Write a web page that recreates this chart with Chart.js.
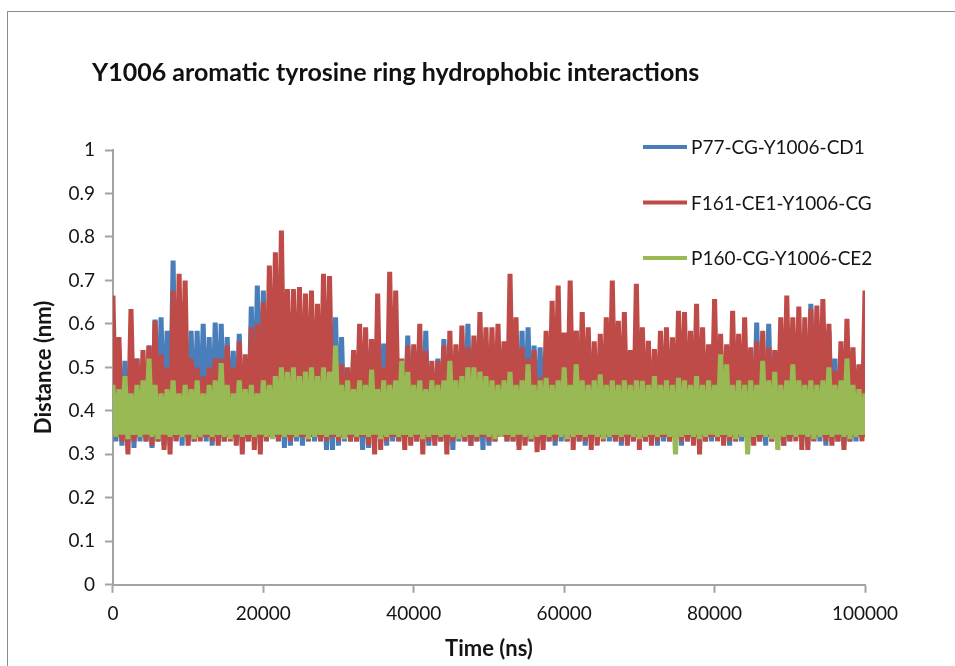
<!DOCTYPE html>
<html>
<head>
<meta charset="utf-8">
<title>Y1006 aromatic tyrosine ring hydrophobic interactions</title>
<script src="https://cdn.jsdelivr.net/npm/chart.js@4.4.1/dist/chart.umd.min.js"></script>
<style>
  html, body { margin: 0; padding: 0; background: #ffffff; }
  #wrap { position: relative; width: 955px; height: 666px; }
</style>
</head>
<body>
<div id="wrap"><canvas id="chart"></canvas></div>
<script>
// Trajectory sampling interval (ns) for the distance series below.
const timeStepNs = 400;

const chartTitle = 'Y1006 aromatic tyrosine ring hydrophobic interactions';
const xAxisTitle = 'Time (ns)';
const yAxisTitle = 'Distance (nm)';
const seriesNames = ['P77-CG-Y1006-CD1', 'F161-CE1-Y1006-CG', 'P160-CG-Y1006-CE2'];
const seriesColors = ['#4a7ebb', '#be4b48', '#98b954'];

// Distances (nm), one value per sampled frame.
const p77Cd1 = [
  0.45,0.33,0.54,0.32,0.515,0.33,0.54,0.315,0.52,0.33,
  0.50,0.33,0.55,0.315,0.61,0.33,0.615,0.32,0.584,0.33,
  0.746,0.33,0.66,0.32,0.60,0.33,0.584,0.33,0.584,0.34,
  0.60,0.33,0.57,0.32,0.603,0.33,0.60,0.33,0.57,0.34,
  0.538,0.33,0.577,0.32,0.507,0.33,0.64,0.33,0.688,0.32,
  0.677,0.33,0.56,0.34,0.55,0.33,0.52,0.315,0.55,0.32,
  0.50,0.33,0.52,0.32,0.50,0.33,0.52,0.33,0.48,0.33,
  0.50,0.31,0.52,0.31,0.615,0.32,0.57,0.33,0.48,0.33,
  0.53,0.33,0.50,0.31,0.49,0.315,0.565,0.33,0.50,0.33,
  0.555,0.32,0.52,0.33,0.50,0.33,0.50,0.34,0.573,0.33,
  0.52,0.33,0.546,0.33,0.584,0.32,0.50,0.33,0.52,0.33,
  0.565,0.32,0.50,0.31,0.52,0.33,0.50,0.33,0.60,0.32,
  0.52,0.33,0.50,0.31,0.51,0.32,0.50,0.33,0.52,0.34,
  0.50,0.33,0.48,0.33,0.50,0.32,0.584,0.33,0.592,0.33,
  0.55,0.34,0.546,0.33,0.50,0.33,0.52,0.32,0.50,0.33,
  0.49,0.33,0.52,0.34,0.584,0.33,0.50,0.32,0.51,0.33,
  0.49,0.33,0.52,0.34,0.50,0.33,0.53,0.33,0.50,0.32,
  0.52,0.33,0.49,0.33,0.50,0.34,0.52,0.33,0.50,0.33,
  0.51,0.32,0.53,0.33,0.50,0.33,0.52,0.33,0.50,0.32,
  0.50,0.33,0.52,0.33,0.50,0.32,0.49,0.33,0.546,0.33,
  0.52,0.34,0.50,0.33,0.51,0.32,0.50,0.33,0.52,0.33,
  0.50,0.32,0.49,0.33,0.603,0.33,0.52,0.32,0.60,0.33,
  0.507,0.33,0.52,0.32,0.50,0.33,0.52,0.34,0.51,0.33,
  0.50,0.32,0.646,0.33,0.52,0.33,0.50,0.32,0.584,0.33,
  0.52,0.33,0.523,0.32,0.50,0.33,0.51,0.33,0.49,0.34,
  0.48
];

const f161Cg = [
  0.665,0.34,0.57,0.33,0.475,0.30,0.634,0.33,0.52,0.34,
  0.54,0.33,0.55,0.32,0.607,0.33,0.53,0.31,0.50,0.30,
  0.677,0.33,0.715,0.34,0.70,0.32,0.52,0.33,0.50,0.33,
  0.48,0.34,0.50,0.33,0.52,0.32,0.52,0.33,0.55,0.33,
  0.50,0.32,0.56,0.30,0.53,0.33,0.592,0.31,0.60,0.30,
  0.65,0.33,0.734,0.34,0.765,0.33,0.815,0.34,0.68,0.33,
  0.68,0.34,0.685,0.34,0.67,0.33,0.677,0.34,0.646,0.33,
  0.715,0.33,0.71,0.34,0.53,0.33,0.507,0.34,0.50,0.33,
  0.54,0.33,0.60,0.34,0.592,0.32,0.565,0.30,0.67,0.31,
  0.50,0.33,0.72,0.34,0.677,0.33,0.52,0.31,0.55,0.32,
  0.553,0.33,0.60,0.30,0.538,0.33,0.515,0.32,0.515,0.33,
  0.55,0.30,0.584,0.33,0.553,0.34,0.596,0.33,0.546,0.32,
  0.573,0.33,0.627,0.34,0.592,0.33,0.592,0.33,0.60,0.34,
  0.56,0.33,0.715,0.33,0.615,0.31,0.546,0.32,0.52,0.33,
  0.54,0.305,0.476,0.31,0.584,0.33,0.653,0.33,0.688,0.34,
  0.58,0.33,0.70,0.31,0.584,0.33,0.627,0.33,0.592,0.31,
  0.56,0.32,0.577,0.33,0.615,0.34,0.70,0.33,0.607,0.33,
  0.627,0.32,0.54,0.33,0.692,0.31,0.592,0.33,0.561,0.32,
  0.542,0.33,0.584,0.34,0.592,0.33,0.569,0.33,0.63,0.33,
  0.627,0.33,0.584,0.32,0.646,0.30,0.592,0.33,0.553,0.34,
  0.657,0.33,0.577,0.32,0.553,0.33,0.63,0.33,0.577,0.34,
  0.615,0.33,0.546,0.32,0.56,0.33,0.584,0.34,0.546,0.33,
  0.54,0.33,0.615,0.32,0.665,0.33,0.615,0.33,0.64,0.31,
  0.615,0.31,0.634,0.33,0.642,0.34,0.657,0.33,0.60,0.32,
  0.492,0.33,0.56,0.31,0.612,0.33,0.546,0.34,0.507,0.33,
  0.677
];

const p160Ce2 = [
  0.46,0.34,0.45,0.35,0.48,0.335,0.44,0.345,0.46,0.34,
  0.47,0.35,0.52,0.34,0.46,0.335,0.44,0.35,0.45,0.34,
  0.47,0.345,0.44,0.34,0.46,0.35,0.45,0.335,0.47,0.34,
  0.44,0.35,0.46,0.34,0.47,0.345,0.51,0.34,0.46,0.335,
  0.44,0.35,0.47,0.34,0.45,0.345,0.46,0.34,0.44,0.35,
  0.47,0.34,0.46,0.335,0.48,0.35,0.50,0.34,0.49,0.345,
  0.50,0.34,0.48,0.35,0.49,0.335,0.50,0.34,0.48,0.345,
  0.50,0.34,0.49,0.35,0.55,0.34,0.46,0.335,0.47,0.35,
  0.45,0.34,0.47,0.345,0.46,0.34,0.495,0.35,0.45,0.335,
  0.47,0.34,0.46,0.35,0.47,0.34,0.515,0.345,0.49,0.34,
  0.46,0.35,0.47,0.335,0.45,0.34,0.47,0.345,0.46,0.34,
  0.47,0.35,0.515,0.34,0.47,0.335,0.48,0.34,0.50,0.345,
  0.50,0.34,0.49,0.35,0.48,0.34,0.47,0.335,0.46,0.34,
  0.47,0.345,0.49,0.34,0.46,0.35,0.47,0.34,0.507,0.335,
  0.46,0.34,0.47,0.345,0.476,0.34,0.46,0.35,0.47,0.34,
  0.50,0.335,0.46,0.34,0.507,0.345,0.47,0.34,0.46,0.35,
  0.47,0.34,0.484,0.335,0.46,0.34,0.47,0.345,0.46,0.34,
  0.47,0.35,0.46,0.34,0.47,0.335,0.469,0.34,0.46,0.345,
  0.48,0.34,0.46,0.35,0.47,0.34,0.46,0.30,0.476,0.34,
  0.47,0.345,0.46,0.34,0.48,0.335,0.46,0.34,0.47,0.35,
  0.46,0.34,0.53,0.345,0.507,0.34,0.46,0.335,0.47,0.34,
  0.46,0.30,0.47,0.34,0.46,0.345,0.515,0.34,0.47,0.335,
  0.49,0.31,0.46,0.34,0.47,0.345,0.507,0.34,0.47,0.35,
  0.46,0.34,0.47,0.335,0.46,0.34,0.47,0.345,0.50,0.34,
  0.46,0.35,0.47,0.34,0.52,0.335,0.46,0.34,0.45,0.345,
  0.44
];

const seriesValues = [p77Cd1, f161Cg, p160Ce2];
// Stacking: the last series sits on top, the first underneath.
const seriesDrawOrder = [3, 2, 1];
// Level (nm) each trace is shaded down to, so the dense trace reads as a band.
const bandFloor = [0.34, 0.34, 0.345];

const FONT = 'Lato';
Chart.defaults.font.family = FONT;
Chart.defaults.color = '#151515';

function toPoints(values) {
  return values.map((v, i) => ({ x: i * timeStepNs, y: v }));
}

// White sheet with the grey outer frame.
const framePlugin = {
  id: 'frame',
  beforeDraw(chart) {
    const ctx = chart.ctx;
    ctx.save();
    ctx.fillStyle = '#ffffff';
    ctx.fillRect(0, 0, chart.width, chart.height);
    ctx.strokeStyle = '#8c8c8c';
    ctx.lineWidth = 1;
    ctx.strokeRect(7.5, 11.5, chart.width + 20, chart.height + 20);
    ctx.restore();
  }
};

// Chart heading, left-aligned above the plot.
const headingPlugin = {
  id: 'heading',
  afterDraw(chart) {
    const ctx = chart.ctx;
    ctx.save();
    ctx.font = 'bold 25px ' + FONT;
    ctx.fillStyle = '#111111';
    ctx.textBaseline = 'middle';
    ctx.textAlign = 'left';
    ctx.fillText(chartTitle, 92, 73);
    ctx.restore();
  }
};

// Series key drawn in the upper right of the plot area.
const keyPlugin = {
  id: 'seriesKey',
  afterDatasetsDraw(chart) {
    const ctx = chart.ctx;
    const area = chart.chartArea;
    const x0 = area.right - 222;
    const x1 = area.right - 178;
    ctx.save();
    ctx.font = '19px ' + FONT;
    ctx.textBaseline = 'middle';
    ctx.textAlign = 'left';
    chart.data.datasets.forEach((ds, k) => {
      const y = area.top - 3 + k * 55.5;
      ctx.strokeStyle = ds.borderColor;
      ctx.lineWidth = 4;
      ctx.beginPath();
      ctx.moveTo(x0, y);
      ctx.lineTo(x1, y);
      ctx.stroke();
      ctx.fillStyle = '#151515';
      ctx.fillText(ds.label, x1 + 4, y + 1);
    });
    ctx.restore();
  }
};

const axisGrey = '#a3a3a3';

new Chart(document.getElementById('chart'), {
  type: 'line',
  data: {
    datasets: seriesNames.map((name, k) => ({
      label: name,
      data: toPoints(seriesValues[k]),
      borderColor: seriesColors[k],
      backgroundColor: seriesColors[k],
      borderWidth: 5,
      borderJoinStyle: 'bevel',
      pointRadius: 0,
      tension: 0,
      fill: { value: bandFloor[k] },
      order: seriesDrawOrder[k]
    }))
  },
  options: {
    responsive: true,
    maintainAspectRatio: false,
    animation: false,
    events: [],
    layout: { padding: { left: 30, top: 150, right: 90, bottom: 4 } },
    plugins: {
      legend: { display: false },
      title: { display: false },
      tooltip: { enabled: false }
    },
    scales: {
      x: {
        type: 'linear',
        min: 0,
        max: 100000,
        ticks: {
          stepSize: 20000,
          maxRotation: 0,
          padding: 10,
          font: { size: 19 },
          color: '#151515',
          callback: (v) => String(v)
        },
        grid: {
          drawOnChartArea: false,
          drawTicks: true,
          tickLength: 8,
          tickColor: axisGrey,
          tickWidth: 2
        },
        border: { color: axisGrey, width: 2 },
        title: {
          display: true,
          text: xAxisTitle,
          font: { size: 22, weight: 'bold' },
          color: '#151515',
          padding: { top: 0, bottom: 0 }
        }
      },
      y: {
        min: 0,
        max: 1,
        ticks: {
          stepSize: 0.1,
          padding: 10,
          font: { size: 19 },
          color: '#151515',
          callback: (v) => String(Math.round(v * 10) / 10)
        },
        grid: {
          drawOnChartArea: false,
          drawTicks: true,
          tickLength: 8,
          tickColor: axisGrey,
          tickWidth: 2
        },
        border: { color: axisGrey, width: 2 },
        title: {
          display: true,
          text: yAxisTitle,
          font: { size: 22, weight: 'bold' },
          color: '#151515',
          padding: { top: 1, bottom: 1 }
        }
      }
    }
  },
  plugins: [framePlugin, headingPlugin, keyPlugin]
});
</script>
</body>
</html>
